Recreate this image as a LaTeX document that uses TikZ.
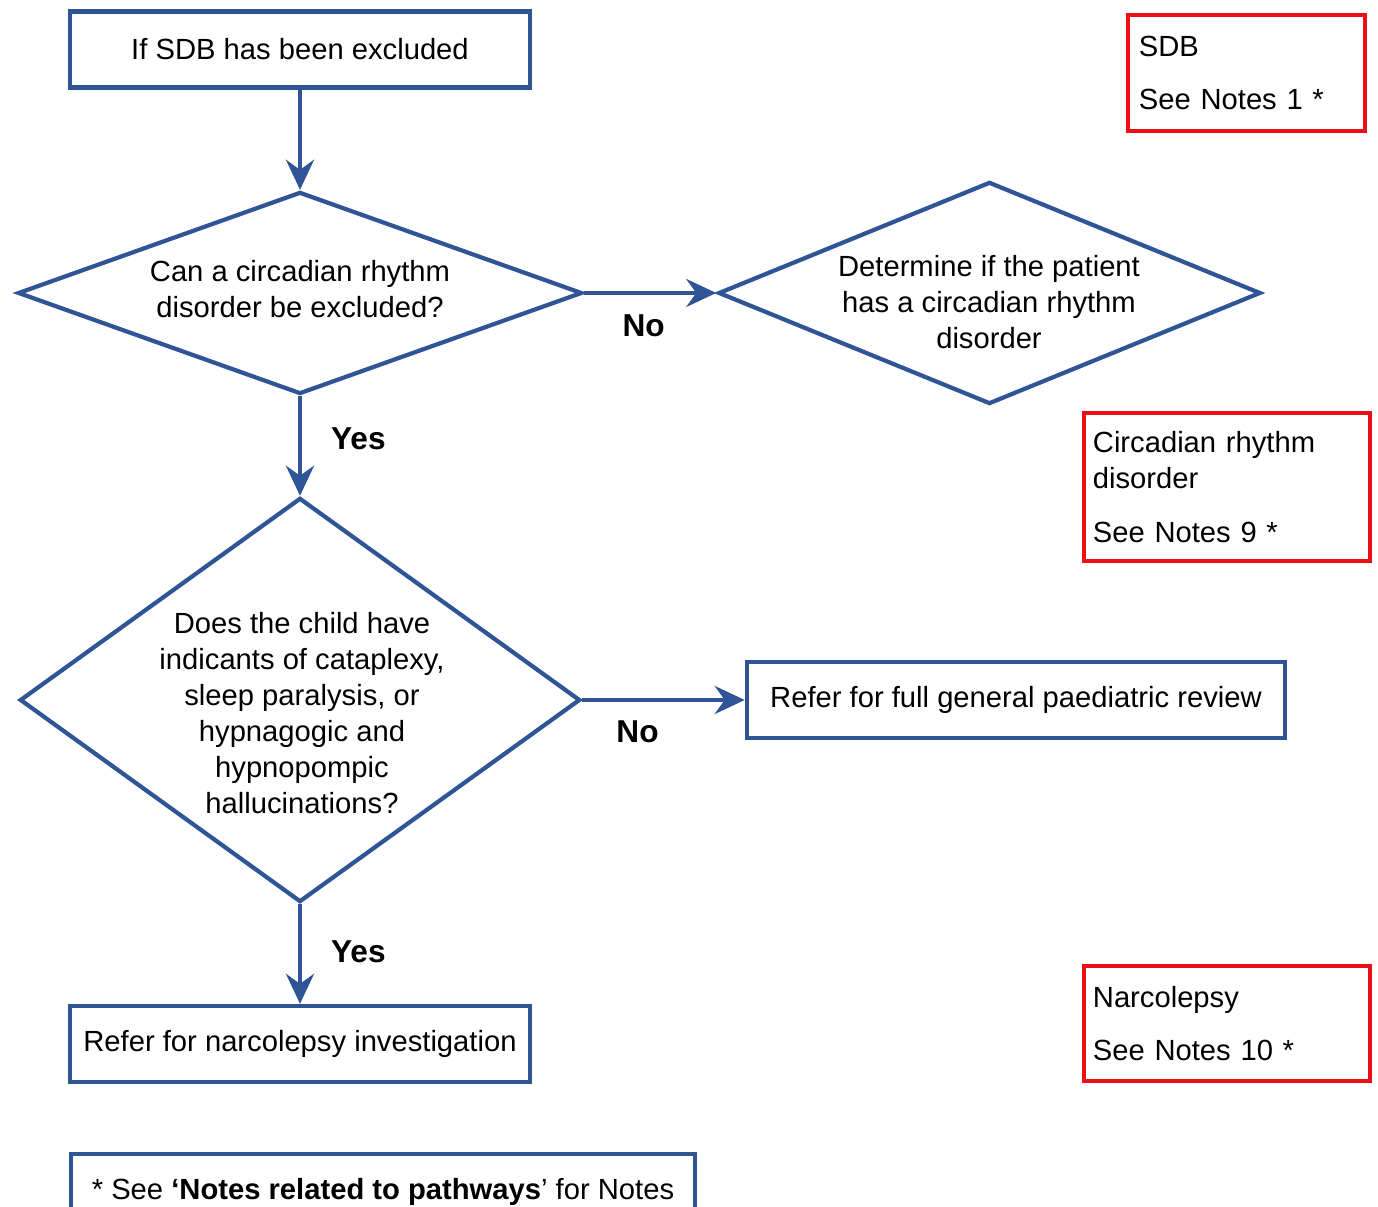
\documentclass[tikz,border=0pt]{standalone}
\usepackage{fontspec}
\setmainfont{Liberation Sans}
\usetikzlibrary{shapes.geometric,arrows.meta,positioning}
\definecolor{flowblue}{RGB}{47,85,151}
\definecolor{notered}{RGB}{236,16,22}
\tikzset{
stepbox/.style={draw=flowblue, line width=1.2pt, minimum height=0.76cm, inner sep=0pt},
decision/.style={draw=flowblue, line width=1.2pt, diamond, inner sep=0pt},
dtext/.style={align=center, inner sep=0pt},
notebox/.style={draw=notered, line width=1.2pt, align=left, inner ysep=0pt},
flow/.style={draw=flowblue, line width=1.2pt, -{Stealth[length=0.3cm,width=0.28cm,inset=0.1cm]}},
answer/.style={font=\bfseries\fontsize{9}{11}\selectfont, inner sep=0pt}
}
\begin{document}
\begin{tikzpicture}[x=0.01cm, y=-0.01cm, every node/.style={font=\fontsize{8.3}{10.25}\selectfont}]
\useasboundingbox (0,0) rectangle (1378,1207);
% main column
\node[stepbox, minimum width=4.59cm] (start) at (300,49.5) {If SDB has been excluded};
\node[decision, minimum width=5.64cm, minimum height=2.02cm] (d1) at (300,293) {};
\node[dtext] (d1t) at (300,289) {Can a circadian rhythm\\disorder be excluded?};
\node[decision, minimum width=5.6cm, minimum height=4.04cm] (d3) at (300,700) {};
\node[dtext] (d3t) at (302,713) {Does the child have\\indicants of cataplexy,\\sleep paralysis, or\\hypnagogic and\\hypnopompic\\hallucinations?};
\node[stepbox, minimum width=4.59cm] (narc) at (300,1044) {Refer for narcolepsy investigation};
% right side
\node[decision, minimum width=5.42cm, minimum height=2.22cm] (d2) at (989.5,293) {};
\node[dtext] (d2t) at (989,302) {Determine if the patient\\has a circadian rhythm\\disorder};
\node[stepbox, minimum width=5.38cm] (review) at (1016,700) {Refer for full general paediatric review};
% notes
\node[notebox, inner xsep=0.11cm, text width=2.15cm, minimum height=1.16cm] (sdbnote) at (1246.5,73) {SDB\\[5pt]See Notes 1 *};
\node[notebox, inner xsep=0.09cm, text width=2.68cm, minimum height=1.48cm] (crdnote) at (1227,487) {Circadian rhythm\\disorder\\[5pt]See Notes 9 *};
\node[notebox, inner xsep=0.09cm, text width=2.68cm, minimum height=1.15cm] (narcnote) at (1227,1023.5) {Narcolepsy\\[5pt]See Notes 10 *};
\node[stepbox, minimum width=6.24cm] (keynote) at (383,1192) {* See \textbf{‘Notes related to pathways}’ for Notes};
% arrows
\draw[flow] (start.south) -- (d1.north);
\draw[flow] (d1.east) -- node[answer, pos=0.45, below=0.2cm] (no1) {No} (d2.west);
\draw[flow] (d1.south) -- node[answer, pos=0.43, right=0.29cm] (yes1) {Yes} (d3.north);
\draw[flow] (d3.east) -- node[answer, pos=0.34, below=0.19cm] (no2) {No} (review.west);
\draw[flow] (d3.south) -- node[answer, pos=0.48, right=0.29cm] (yes2) {Yes} (narc.north);
\end{tikzpicture}
\end{document}
